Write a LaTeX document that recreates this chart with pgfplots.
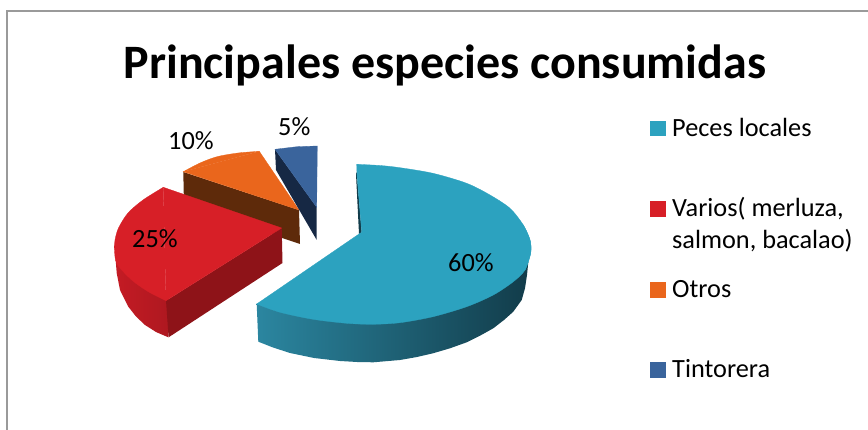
\documentclass[border=0pt]{standalone}
\usepackage{fontspec}
\setmainfont{Carlito}
\usepackage{pgfplots}
\pgfplotsset{compat=1.18}
\definecolor{tealtop}{HTML}{2CA2BF}
\definecolor{tealside}{HTML}{2B86A0}
\definecolor{tealmid}{HTML}{1A5664}
\definecolor{tealdark}{HTML}{123C4A}
\definecolor{redtop}{HTML}{D71F27}
\definecolor{redside}{HTML}{C41B24}
\definecolor{redmid}{HTML}{AE1820}
\definecolor{reddark}{HTML}{8E1318}
\definecolor{orangetop}{HTML}{EA661C}
\definecolor{brown}{HTML}{5E2A0A}
\definecolor{bluetop}{HTML}{3A649C}
\definecolor{navy}{HTML}{162844}
\definecolor{frame}{HTML}{9A9A9A}
\tikzset{lab/.style={text=black, font=\fontsize{26.3}{30}\selectfont, anchor=base west, inner sep=0pt}}
\pgfplotsset{
  top/.style={fill=#1, draw=#1, line width=0.3pt},
  arc/.style={fill=#1, draw=#1, line width=0.3pt, smooth, tension=0.5},
  key/.style={only marks, mark=square*, mark size=7.3pt, mark options={draw=#1, fill=#1, line width=0.4pt}},
}
\begin{document}
\begin{tikzpicture}
\begin{axis}[
  scale only axis, width=868pt, height=430pt,
  xmin=0, xmax=868, ymin=0, ymax=430, y dir=reverse,
  axis line style={draw=none}, ticks=none, clip=true,
]
% chart frame
\addplot[frame, line width=2pt] coordinates {(7,430) (7,11) (868,11)};

% Otros
\addplot[fill=brown, draw=none] coordinates {(183.3,172) (299,210) (300,244) (184,205)} -- cycle;
\addplot[arc=orangetop] coordinates {(183.3,171.7) (200,163) (217,156.7) (238,153) (259.3,151.3)};
\addplot[top=orangetop] coordinates {(183.3,171.7) (259.3,151.3) (299,210)} -- cycle;

% Tintorera
\addplot[fill=navy, draw=none] coordinates {(275,149.3) (316.7,207.3) (316.7,240) (276,170)} -- cycle;
\addplot[top=bluetop] coordinates {(275,149.3) (297,146.7) (317.3,146) (316.7,207.3)} -- cycle;

% Varios: wall, flat cut, top
\addplot[shade, left color=redside, right color=redmid, draw=none] coordinates {(114.5,245) (115.5,258) (116.7,273) (120,290) (128.3,306.7) (136,316.5) (145,325) (156,332) (168.3,337.3) (170,300) (140,280)} -- cycle;
\addplot[fill=reddark, draw=none] coordinates {(166,300.7) (281.7,228) (282.5,263) (168.6,337.3)} -- cycle;
\addplot[arc=redtop] coordinates {(163.3,187.3) (143,200) (128,213) (118.5,228) (115,240) (114.5,250) (117,264) (131.7,280) (148.3,291.7) (166,300.7)};
\addplot[top=redtop] coordinates {(163.3,187.3) (281.7,228) (166,300.7)} -- cycle;

% Peces locales: inner sliver, wall, top
\addplot[fill=tealdark, draw=none] coordinates {(356.5,172) (356,174) (359,234) (361.7,232.3) (357,175)} -- cycle;
\addplot[shade, left color=tealside, middle color=tealmid, right color=tealdark, draw=none] coordinates {(256.7,304) (258.3,341.7) (273,347.5) (290,353) (314,358) (340,361) (357,362) (373.3,362.3) (400,360) (417,357) (433,353.3) (450,348.3) (466.7,342.3) (480,335.7) (493.3,328.3) (504,320) (513.3,311.7) (521.7,300) (525,288.3) (527,275) (528.3,262) (400,300)} -- cycle;
\addplot[arc=tealtop] coordinates {(356.7,164.3) (380,165.5) (400,167.7) (433,173.3) (466.7,183.3) (490,195) (510,208.3) (523.3,225) (530,240) (530.7,253) (525,270)};
\addplot[arc=tealtop] coordinates {(523.3,225) (530,240) (530.7,253) (525,270) (513.3,281.7) (493.3,295) (466.7,306.7) (433,316.7) (400,322.7) (373,324.3) (346.7,323.3) (313,319.3) (280,312.3) (256.7,304)};
\addplot[top=tealtop] coordinates {(356.7,164.3) (357,175) (361.7,232.3) (359,234) (256.7,304) (373,324) (525,270) (523.3,225)} -- cycle;

% legend keys
\addplot[key=tealtop] coordinates {(657.5,128.3)};
\addplot[key=redtop] coordinates {(657.5,208.5)};
\addplot[key=orangetop] coordinates {(657.5,289.5)};
\addplot[key=bluetop] coordinates {(657.5,369.5)};

\node[anchor=base, inner sep=0pt, font=\fontsize{48}{50}\selectfont\bfseries, text=black] at (axis cs:445,79) {Principales especies consumidas};
\node[lab] at (axis cs:448,272) {60\%};
\node[lab] at (axis cs:132,248) {25\%};
\node[lab] at (axis cs:168,149.5) {10\%};
\node[lab] at (axis cs:278,136) {5\%};
\node[lab] at (axis cs:672,137) {Peces locales};
\node[lab] at (axis cs:672,217) {Varios( merluza,};
\node[lab] at (axis cs:672,249) {salmon, bacalao)};
\node[lab] at (axis cs:672,298) {Otros};
\node[lab] at (axis cs:672,378) {Tintorera};
\end{axis}
\end{tikzpicture}
\end{document}
